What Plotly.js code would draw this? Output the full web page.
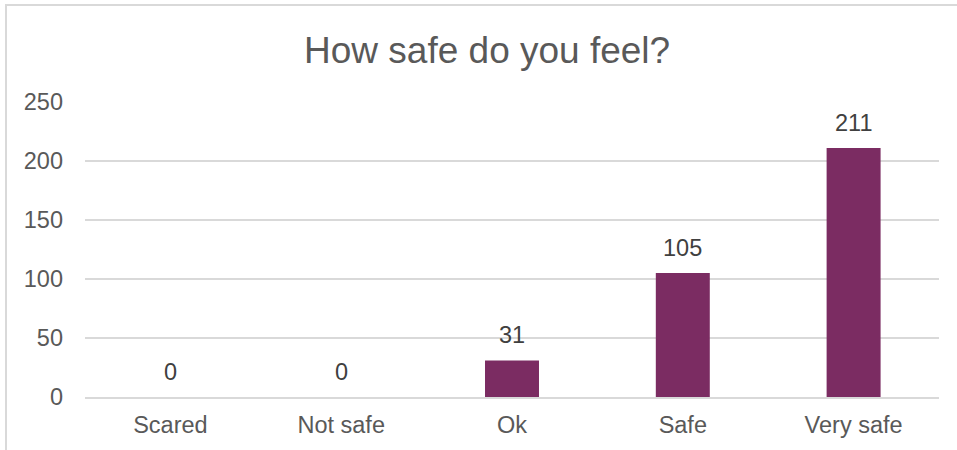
<!DOCTYPE html>
<html>
<head>
<meta charset="utf-8">
<script src="https://cdn.plot.ly/plotly-3.0.1.min.js"></script>
<style>
html,body{margin:0;padding:0;background:#fff;}
#frame{position:absolute;left:5px;top:4px;width:1000px;height:500px;border:2px solid #d9d9d9;box-sizing:border-box;}
#chart{position:absolute;left:0;top:0;width:957px;height:450px;}
</style>
</head>
<body>
<div id="frame"></div>
<div id="chart"></div>
<script>
const categories = ["Scared", "Not safe", "Ok", "Safe", "Very safe"];
const counts = [0, 0, 31, 105, 211];
const yTicks = [0, 50, 100, 150, 200, 250];

const textColor = "#595959";
const labelColor = "#404040";
const font = {family: "Liberation Sans, Arial, sans-serif", size: 23.5, color: textColor};

const trace = {
  type: "bar",
  x: categories,
  y: counts,
  marker: {color: "#7B2C62"},
  hoverinfo: "x+y"
};

const annotations = categories.map((c, i) => ({
  x: c, y: counts[i], xref: "x", yref: "y",
  text: String(counts[i]), showarrow: false,
  yanchor: "bottom", yshift: 10,
  font: {family: font.family, size: 23.5, color: labelColor}
}));

const layout = {
  width: 957, height: 450,
  paper_bgcolor: "rgba(0,0,0,0)",
  plot_bgcolor: "rgba(0,0,0,0)",
  margin: {l: 85, r: 18, t: 102, b: 53},
  title: {text: "How safe do you feel?", font: {family: "Liberation Sans, Arial, sans-serif", size: 37, color: textColor}, x: 0.509, xanchor: "center", y: 0.888, yanchor: "middle"},
  bargap: 0.684,
  showlegend: false,
  font: font,
  xaxis: {
    type: "category",
    showgrid: false, zeroline: false,
    showline: true, linecolor: "#d9d9d9", linewidth: 1.5,
    ticks: "", ticklabelstandoff: 6,
    tickfont: font
  },
  yaxis: {
    range: [0, 250],
    tickvals: yTicks,
    showgrid: true, gridcolor: "#d9d9d9", gridwidth: 1.5,
    zeroline: false, showline: false,
    ticks: "", ticklabelstandoff: 21,
    tickfont: font
  },
  annotations: annotations
};

Plotly.newPlot("chart", [trace], layout, {displayModeBar: false, staticPlot: true});
</script>
</body>
</html>
